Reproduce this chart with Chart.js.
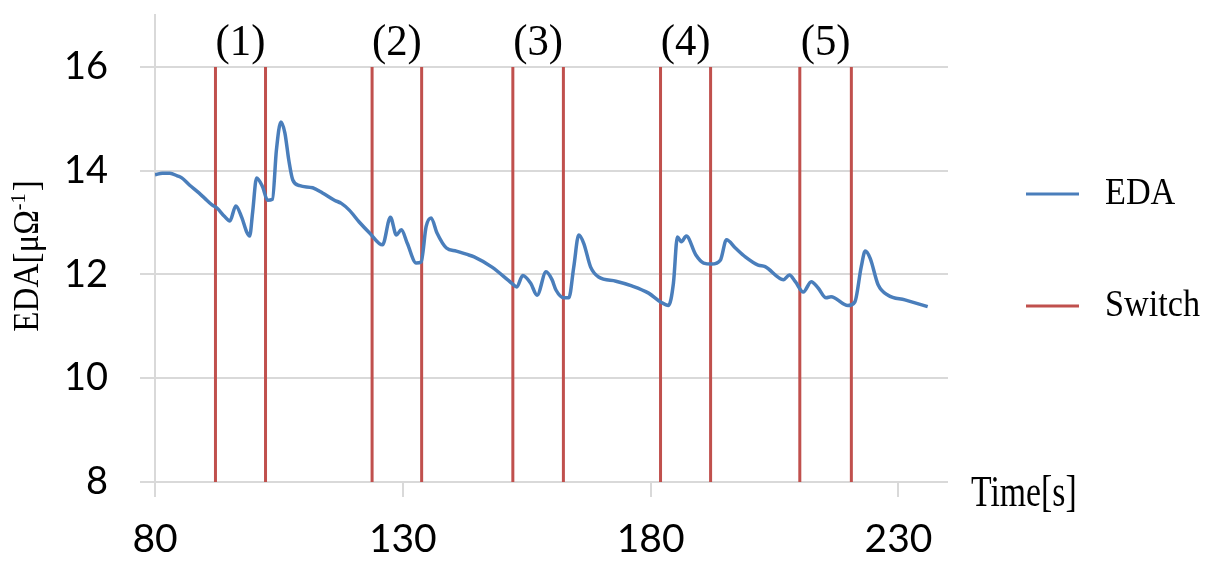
<!DOCTYPE html>
<html>
<head>
<meta charset="utf-8">
<script src="https://cdn.jsdelivr.net/npm/chart.js@4.4.1/dist/chart.umd.min.js"></script>
<style>
  html, body { margin: 0; padding: 0; background: #fff; }
  #wrap { width: 1209px; height: 561px; }
</style>
</head>
<body>
<div id="wrap"><canvas id="eda"></canvas></div>
<script>
// EDA trace
const edaTime = [
  80, 81.5, 83, 84.5, 85.4, 87, 88.5, 90, 91.5, 92.5, 94, 95.1, 96.3, 97.5, 98.5, 99.1,
  99.7, 100.5, 101.7, 102.7, 103.7, 104.5, 105.4, 106.2, 107, 107.8, 109.2, 111.8, 113.8,
  116.2, 117.6, 119.2, 121.2, 123.3, 125.9, 127.5, 128.7, 129.7, 130.9, 132.7, 133.7, 134.7,
  135.7, 136.9, 138.8, 140.8, 142.8, 144.4, 148, 152, 153, 154.2, 155.8, 157.1, 158.9, 160.1,
  160.9, 162.5, 163.5, 164.5, 165.5, 166.5, 167.9, 169.5, 173, 176.2, 179.6, 182, 183.6,
  184.6, 185.4, 186.2, 187.2, 189.1, 190.7, 192.3, 194.1, 195.3, 197.1, 199.1, 201.7, 203.1,
  206.8, 208, 209.2, 210.8, 212.4, 213.8, 215.4, 216.4, 219.8, 221.2, 222.5, 223.3, 224.3,
  225.9, 227.9, 231.3, 235.9
]
const edaValue = [
  13.92, 13.95, 13.95, 13.9, 13.86, 13.72, 13.6, 13.47, 13.34, 13.28, 13.12, 13.03, 13.32, 13.1, 12.82, 12.74,
  13.2, 13.86, 13.69, 13.43, 13.45, 14.4, 14.94, 14.73, 14.2, 13.82, 13.71, 13.67, 13.57,
  13.43, 13.37, 13.24, 13.01, 12.8, 12.57, 13.1, 12.76, 12.86, 12.6, 12.22, 12.24, 12.92,
  13.09, 12.8, 12.51, 12.45, 12.39, 12.34, 12.14, 11.83, 11.76, 11.98, 11.83, 11.6, 12.05, 11.9,
  11.7, 11.55, 11.55, 12.15, 12.76, 12.6, 12.14, 11.95, 11.87, 11.78, 11.64, 11.47, 11.4,
  11.83, 12.72, 12.63, 12.74, 12.38, 12.22, 12.2, 12.28, 12.67, 12.51, 12.34, 12.18, 12.15,
  11.9, 11.99, 11.86, 11.66, 11.86, 11.74, 11.55, 11.57, 11.4, 11.47, 12.15, 12.45, 12.31,
  11.8, 11.6, 11.51, 11.38
]

// switch moments (pairs) and their labels
const switchTimes = [92.2, 102.3, 123.8, 133.8, 152.2, 162.4, 182.0, 192.1, 210.1, 220.5]
const switchLabels = ["(1)", "(2)", "(3)", "(4)", "(5)"]

const xTicks = [80, 130, 180, 230]
const yTicks = [8, 10, 12, 14, 16]

const blue = "#4A7EBB"
const red = "#C0504D"
const grid = "#d9d9d9"

const edaData = edaTime.map((t, i) => ({ x: t, y: edaValue[i] }))
const switchData = []
switchTimes.forEach(t => {
  switchData.push({ x: t, y: 8 }, { x: t, y: 16 }, { x: t, y: null })
})

// text squeezed sideways, the figure's lettering is tall and narrow
function squeezed(ctx, txt, x, y, font, sx, align) {
  ctx.save()
  ctx.font = font
  const w = ctx.measureText(txt).width * sx
  let left = x
  if (align === "center") left = x - w / 2
  ctx.translate(left, y)
  ctx.scale(sx, 1)
  ctx.textAlign = "left"
  ctx.fillText(txt, 0, 0)
  ctx.restore()
  return w
}

const serif = "'Liberation Serif', 'Times New Roman', serif"

const overlay = {
  id: "overlay",
  afterDraw(chart) {
    const ctx = chart.ctx
    const xs = chart.scales.x
    ctx.save()
    ctx.fillStyle = "#000"
    ctx.textBaseline = "middle"

    // (1)..(5) over each pair of switch lines
    switchLabels.forEach((lab, i) => {
      const mid = (switchTimes[i * 2] + switchTimes[i * 2 + 1]) / 2
      squeezed(ctx, lab, xs.getPixelForValue(mid), 43, "45px " + serif, 0.95, "center")
    })

    // x axis title
    squeezed(ctx, "Time[s]", 971, 494, "45px " + serif, 0.75, "left")

    // legend
    const items = [["EDA", blue, 194], ["Switch", red, 306]]
    items.forEach(([name, col, y]) => {
      ctx.strokeStyle = col
      ctx.lineWidth = 3
      ctx.beginPath()
      ctx.moveTo(1026, y)
      ctx.lineTo(1079, y)
      ctx.stroke()
      squeezed(ctx, name, 1105, y, "38px " + serif, 0.9, "left")
    })

    // y axis title, rotated, with superscript
    ctx.translate(29, 257)
    ctx.rotate(-Math.PI / 2)
    const big = "36px " + serif
    const small = "22px " + serif
    const sx = 0.92
    ctx.font = big
    const w1 = ctx.measureText("EDA[μΩ").width * sx
    const w3 = ctx.measureText("]").width * sx
    ctx.font = small
    const w2 = ctx.measureText("-1").width * sx
    const x0 = -(w1 + w2 + w3) / 2
    squeezed(ctx, "EDA[μΩ", x0, 0, big, sx, "left")
    squeezed(ctx, "-1", x0 + w1, -10, small, sx, "left")
    squeezed(ctx, "]", x0 + w1 + w2 + 2, 0, big, sx, "left")
    ctx.restore()
  },
}

new Chart(document.getElementById("eda"), {
  type: "line",
  data: {
    datasets: [
      {
        label: "EDA",
        data: edaData,
        borderColor: blue,
        borderWidth: 3.5,
        pointRadius: 0,
        cubicInterpolationMode: "monotone",
        fill: false,
      },
      {
        label: "Switch",
        data: switchData,
        borderColor: red,
        borderWidth: 3,
        pointRadius: 0,
        spanGaps: false,
        fill: false,
      },
    ],
  },
  options: {
    responsive: true,
    maintainAspectRatio: false,
    animation: false,
    layout: { padding: { top: 15, right: 261, left: 0, bottom: 0 } },
    plugins: {
      legend: { display: false },
      tooltip: { enabled: false },
    },
    scales: {
      x: {
        type: "linear",
        min: 80,
        max: 240,
        afterBuildTicks: (axis) => {
          axis.ticks = xTicks.map(v => ({ value: v }))
        },
        afterFit: (scale) => {
          scale.height = 79
          scale.paddingLeft = 0
          scale.paddingRight = 0
        },
        grid: {
          drawOnChartArea: false,
          drawTicks: true,
          tickLength: 15,
          color: grid,
          lineWidth: 2,
        },
        border: { display: false },
        ticks: {
          font: { family: "Lato", size: 39 },
          color: "#000",
          padding: 19,
          maxRotation: 0,
        },
      },
      y: {
        min: 8,
        max: 17,
        afterBuildTicks: (axis) => {
          axis.ticks = yTicks.map(v => ({ value: v }))
        },
        afterFit: (scale) => {
          scale.width = 155
          scale.paddingTop = 0
          scale.paddingBottom = 0
        },
        grid: {
          color: grid,
          lineWidth: 2,
          tickLength: 15,
        },
        border: { color: grid, width: 2 },
        ticks: {
          font: { family: "Lato", size: 38 },
          color: "#000",
          padding: 32,
        },
      },
    },
  },
  plugins: [overlay],
})
</script>
</body>
</html>
